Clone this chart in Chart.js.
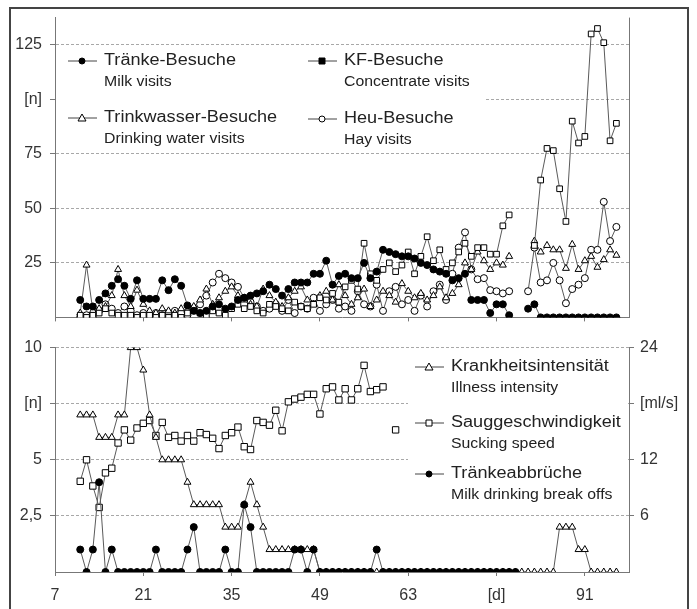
<!DOCTYPE html>
<html>
<head>
<meta charset="utf-8">
<script src="https://cdn.jsdelivr.net/npm/chart.js@4.4.1/dist/chart.umd.min.js"></script>
<style>
html, body { margin: 0; padding: 0; background: #fff; overflow: hidden; width: 697px; height: 609px; }
#frame { position: absolute; left: 9px; top: 7px; width: 676px; height: 640px; border: 2px solid #444; }
canvas { position: absolute; left: 0; }
#topChart { top: 0; }
#bottomChart { top: 330px; }
</style>
</head>
<body>
<div id="frame"></div>
<canvas id="topChart" width="697" height="335"></canvas>
<canvas id="bottomChart" width="697" height="279"></canvas>
<script>
// days of the trial (x values)
var days = [11, 12, 13, 14, 15, 16, 17, 18, 19, 20,
    21, 22, 23, 24, 25, 26, 27, 28, 29, 30,
    31, 32, 33, 34, 35, 36, 37, 38, 39, 40,
    41, 42, 43, 44, 45, 46, 47, 48, 49, 50,
    51, 52, 53, 54, 55, 56, 57, 58, 59, 60,
    61, 62, 63, 64, 65, 66, 67, 68, 69, 70,
    71, 72, 73, 74, 75, 76, 77, 78, 79, 80,
    81, 82, 83, 84, 85, 86, 87, 88, 89, 90,
    91, 92, 93, 94, 95, 96];

// top chart [n]
var milkVisits = [8, 5, 5, 8, 11, 14.5, 17.5, 14.5, 8.5, 17,
    8.5, 8.5, 8.5, 17, 12.5, 17.5, 14.5, 5.5, 3, 2,
    3, 5, 6, 4, 5, 8, 9, 10, 11, 12,
    15, 13, 10, 13, 16, 16, 16, 20, 20, 26,
    15, 19, 20, 18, 18, 25, 18, 21, 31, 30,
    29, 28, 28, 27, 25, 24, 22, 21, 20, 17,
    18, 20, 8, 8, 8, 2, 6, 6, 1, null,
    null, 4, 6, 0, 0, 0, 0, 0, 0, 0,
    0, 0, 0, 0, 0, 0];
var concVisits = [1, 0, 1, 2, 4, 2, 1, 1, 1, 0,
    1, 1, 0, 1, 0, 1, 0, 2, 3, 2,
    1, 3, 2, 1, 4, 6, 4, 5, 3, 2,
    6, 5, 4, 3, 7, 5, 4, 6, 9, 8,
    11, 7, 14, 17, 13, 34, 20, 17, 22, 25,
    21, 24, 30, 20, 28, 37, 26, 31, 22, 25,
    30, 34, 28, 32, 32, 29, 29, 42, 47, null,
    null, null, 33, 63, 77.5, 76.5, 59, 44, 90, 80,
    83, 130, 132.5, 126, 81, 89];
var waterVisits = [2, 24, 3, 4, 5, 10, 22, 10, 5, 12.5,
    6, 3, 2, 4, 3, 2, 4, 3, 5, 8,
    13, 6, 9, 12, 14, 10, 8, 6, 5, 13,
    10, 7, 5, 9, 12, 14, 8, 6, 10, 12,
    8, 15, 10, 6, 9, 13, 5, 8, 12, 10,
    7, 15.5, 12, 9, 11, 8, 10, 14, 9, 11,
    15, 25, 22, 30, 26, 22, 25, 24, 28, null,
    null, null, 35, 30, 33, 31, 31, 22.5, 33.5, 22,
    26, 28, 23, 26.5, 31, 28.5];
var hayVisits = [0, 1, 0, 3, 6, 4, 2, 5, 3, 1,
    2, 1, 2, 1, 2, 3, 2, 1, 4, 6,
    10, 16, 20, 18, 16, 14, 9, 7, 5, 3,
    4, 6, 3, 8, 2, 5, 4, 9, 3, 6,
    8, 4, 5, 3, 12, 6, 5, 15, 3, 12,
    14, 6, 8, 3, 10, 5, 12, 15, 8, 20,
    32, 39, 22, 17.5, 18, 12.5, 12, 11, 12, null,
    null, 12, 32, 16, 17, 25, 17, 6.5, 13, 15,
    18, 31, 31, 53, 35, 41.5];

// bottom chart
var illness = [7, 7, 7, 6, 6, 6, 7, 7, 10, 10,
    9, 7, 6, 5, 5, 5, 5, 4, 3, 3,
    3, 3, 3, 2, 2, 2, 3, 4, 3, 2,
    1, 1, 1, 1, 1, 1, 1, 1, 0, 0,
    0, 0, 0, 0, 0, 0, 0, 0, 0, 0,
    0, 0, 0, 0, 0, 0, 0, 0, 0, 0,
    0, 0, 0, 0, 0, 0, 0, 0, 0, 0,
    0, 0, 0, 0, 0, 0, 2, 2, 2, 1,
    1, 0, 0, 0, 0, 0];
var suckSpeed = [9.7, 12, 9.2, 6.9, 10.6, 11.1, 13.8, 15.2, 14.1, 15.4,
    15.9, 16.2, 14.6, 16, 14.4, 14.6, 14, 14.6, 14, 14.9,
    14.7, 14.3, 13.2, 14.6, 14.9, 15.5, 13.4, 13.1, 16.2, 16,
    15.7, 17.3, 15.1, 18.2, 18.5, 18.7, 19, 19, 16.9, 19.6,
    19.8, 18.4, 19.6, 18.4, 19.6, 22.1, 19.3, 19.5, 19.8, null,
    15.2, null, null, null, null, null, null, null, null, null,
    null, null, null, null, null, null, null, null, null, null,
    null, null, null, null, null, null, null, null, null, null,
    null, null, null, null, null, null];
var breakOffs = [1, 0, 1, 4, 0, 1, 0, 0, 0, 0,
    0, 0, 1, 0, 0, 0, 0, 1, 2, 0,
    0, 0, 0, 1, 0, 0, 3, 2, 0, 0,
    0, 0, 0, 0, 1, 1, 0, 1, 0, 0,
    0, 0, 0, 0, 0, 0, 0, 1, 0, 0,
    0, 0, 0, 0, 0, 0, 0, 0, 0, 0,
    0, 0, 0, 0, 0, 0, 0, 0, 0, 0,
    null, null, null, null, null, null, null, null, null, null,
    null, null, null, null, null, null];

// axes
var xTicks = [7, 21, 35, 49, 63, 77, 91];
var xLabels = ['7', '21', '35', '49', '63', '[d]', '91'];
var topTicks = [25, 50, 75, 100, 125];
var topLabels = ['25', '50', '75', '[n]', '125'];
var leftTicks = [2.5, 5, 7.5, 10];
var leftLabels = ['2,5', '5', '[n]', '10'];
var rightTicks = [6, 12, 18, 24];
var rightLabels = ['6', '12', '[ml/s]', '24'];

var topLegend = [
    ['Tränke-Besuche', 'Milk visits'],
    ['KF-Besuche', 'Concentrate visits'],
    ['Trinkwasser-Besuche', 'Drinking water visits'],
    ['Heu-Besuche', 'Hay visits']
];
var bottomLegend = [
    ['Krankheitsintensität', 'Illness intensity'],
    ['Sauggeschwindigkeit', 'Sucking speed'],
    ['Tränkeabbrüche', 'Milk drinking break offs']
];

Chart.defaults.font.family = '"Liberation Sans", Arial, sans-serif';
Chart.defaults.font.size = 16;
Chart.defaults.color = '#333';

function pts(vals) {
    return days.map(function(d, i) { return { x: d, y: vals[i] }; });
}

function series(vals, style, radius, filled, yAxis) {
    return {
        data: pts(vals),
        yAxisID: yAxis || 'y',
        borderColor: '#5a5a5a',
        borderWidth: 1,
        pointStyle: style,
        pointRadius: radius,
        pointBorderColor: '#000',
        pointBorderWidth: 1,
        pointBackgroundColor: filled ? '#000' : '#fff',
        spanGaps: false
    };
}

function marker(ctx, style, x, y, filled) {
    ctx.beginPath();
    if (style === 'circle') ctx.arc(x, y, 3, 0, Math.PI * 2);
    else if (style === 'rect') ctx.rect(x - 3, y - 3, 6, 6);
    else { ctx.moveTo(x, y - 4); ctx.lineTo(x + 4, y + 3); ctx.lineTo(x - 4, y + 3); ctx.closePath(); }
    ctx.fillStyle = filled ? '#000' : '#fff';
    ctx.fill();
    ctx.strokeStyle = '#000';
    ctx.lineWidth = 1;
    ctx.stroke();
}

function stretchText(ctx, txt, x, y, size) {
    ctx.save();
    ctx.translate(x, y);
    ctx.scale(1.13, 1);
    ctx.font = size + 'px "Liberation Sans", Arial, sans-serif';
    ctx.fillStyle = '#222';
    ctx.textAlign = 'left';
    ctx.textBaseline = 'middle';
    ctx.fillText(txt, 0, 0);
    ctx.restore();
}

function legendItem(ctx, x, y, style, filled, labels) {
    ctx.strokeStyle = '#444';
    ctx.lineWidth = 1;
    ctx.beginPath();
    ctx.moveTo(x, y);
    ctx.lineTo(x + 29, y);
    ctx.stroke();
    marker(ctx, style, x + 14, y, filled);
    stretchText(ctx, labels[0], x + 36, y, 16);
    stretchText(ctx, labels[1], x + 36, y + 21, 14);
}

function tickSetter(vals) {
    return function(s) { s.ticks = vals.map(function(v) { return { value: v }; }); };
}
function labelFor(vals, labels) {
    return function(v) { var i = vals.indexOf(v); return i < 0 ? '' : labels[i]; };
}

var gridStyle = { color: '#a8a8a8', tickColor: '#777', tickLength: 5 };

// ---- top chart ----
var topDecor = {
    id: 'topDecor',
    afterDraw: function(chart) {
        var ctx = chart.ctx;
        var a = chart.chartArea;
        ctx.save();
        ctx.fillStyle = '#fff';
        ctx.fillRect(a.left + 1, 50, 484 - a.left, 100);
        ctx.strokeStyle = '#777';
        ctx.lineWidth = 1;
        ctx.beginPath();
        ctx.moveTo(a.right + 0.5, a.top);
        ctx.lineTo(a.right + 0.5, a.bottom);
        ctx.stroke();
        legendItem(ctx, 68, 61, 'circle', true, topLegend[0]);
        legendItem(ctx, 308, 61, 'rect', true, topLegend[1]);
        legendItem(ctx, 68, 118, 'triangle', false, topLegend[2]);
        legendItem(ctx, 308, 119, 'circle', false, topLegend[3]);
        ctx.restore();
    }
};

new Chart(document.getElementById('topChart'), {
    type: 'line',
    data: {
        datasets: [
            series(milkVisits, 'circle', 3.5, true),
            series(concVisits, 'rect', 4, false),
            series(waterVisits, 'triangle', 4, false),
            series(hayVisits, 'circle', 3.5, false)
        ]
    },
    options: {
        animation: false,
        responsive: false,
        layout: { padding: { top: 17, right: 68, left: 0, bottom: 0 } },
        plugins: { legend: { display: false }, tooltip: { enabled: false } },
        scales: {
            x: {
                type: 'linear', min: 7, max: 98,
                afterBuildTicks: tickSetter(xTicks),
                afterFit: function(s) { s.height = 12; },
                ticks: { callback: function() { return ''; } },
                grid: { drawOnChartArea: false, tickColor: '#777', tickLength: 4 },
                border: { color: '#777' }
            },
            y: {
                min: 0, max: 137.5,
                afterBuildTicks: tickSetter(topTicks),
                afterFit: function(s) { s.width = 55; },
                ticks: { callback: labelFor(topTicks, topLabels), padding: 8 },
                grid: gridStyle,
                border: { color: '#777', dash: [3, 2] }
            }
        }
    },
    plugins: [topDecor]
});

// ---- bottom chart ----
var bottomDecor = {
    id: 'bottomDecor',
    afterDraw: function(chart) {
        var ctx = chart.ctx;
        ctx.save();
        ctx.fillStyle = '#fff';
        ctx.fillRect(408, 20, 220, 160);
        legendItem(ctx, 415, 37, 'triangle', false, bottomLegend[0]);
        legendItem(ctx, 415, 93, 'rect', false, bottomLegend[1]);
        legendItem(ctx, 415, 144, 'circle', true, bottomLegend[2]);
        ctx.restore();
    }
};

new Chart(document.getElementById('bottomChart'), {
    type: 'line',
    data: {
        datasets: [
            series(breakOffs, 'circle', 3.5, true),
            series(illness, 'triangle', 4, false),
            series(suckSpeed, 'rect', 4.5, false, 'y2')
        ]
    },
    options: {
        animation: false,
        responsive: false,
        layout: { padding: { top: 15, right: 0, left: 0, bottom: 0 } },
        plugins: { legend: { display: false }, tooltip: { enabled: false } },
        scales: {
            x: {
                type: 'linear', min: 7, max: 98,
                afterBuildTicks: tickSetter(xTicks),
                afterFit: function(s) { s.height = 37; },
                ticks: { callback: labelFor(xTicks, xLabels), padding: 10, maxRotation: 0 },
                grid: { drawOnChartArea: false, tickColor: '#777', tickLength: 4 },
                border: { color: '#777' }
            },
            y: {
                min: 0, max: 10,
                afterBuildTicks: tickSetter(leftTicks),
                afterFit: function(s) { s.width = 55; },
                ticks: { callback: labelFor(leftTicks, leftLabels), padding: 8 },
                grid: gridStyle,
                border: { color: '#777', dash: [3, 2] }
            },
            y2: {
                position: 'right',
                min: 0, max: 24,
                afterBuildTicks: tickSetter(rightTicks),
                afterFit: function(s) { s.width = 68; },
                ticks: { callback: labelFor(rightTicks, rightLabels), padding: 6 },
                grid: { drawOnChartArea: false, tickColor: '#777', tickLength: 5 },
                border: { color: '#777' }
            }
        }
    },
    plugins: [bottomDecor]
});
</script>
</body>
</html>
